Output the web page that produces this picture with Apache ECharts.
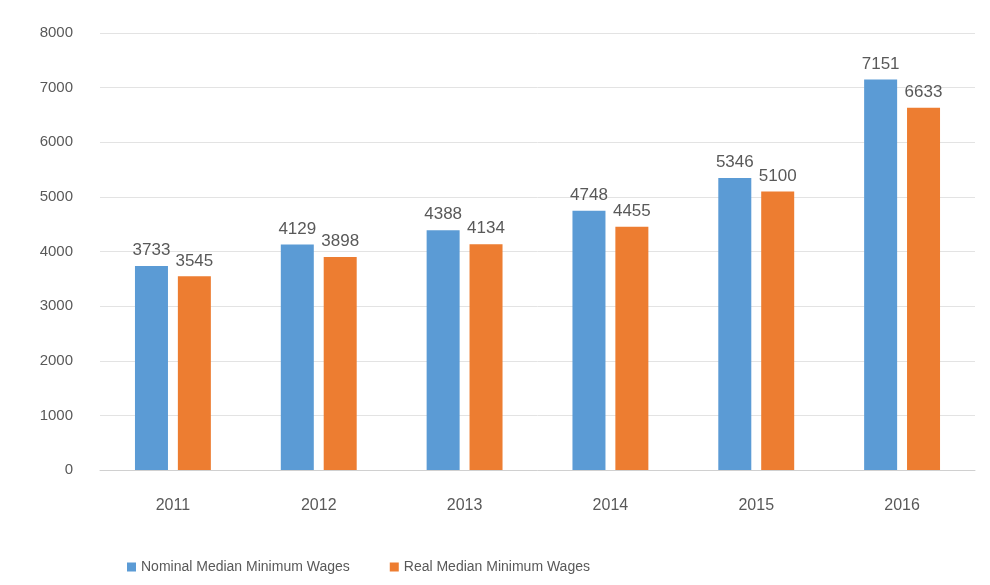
<!DOCTYPE html>
<html>
<head>
<meta charset="utf-8">
<script src="https://cdn.jsdelivr.net/npm/echarts@6/dist/echarts.min.js"></script>
<style>html,body{margin:0;padding:0;background:#fff}#c{width:990px;height:585px}</style>
</head>
<body>
<div id="c"></div>
<script>
const categories = ['2011', '2012', '2013', '2014', '2015', '2016'];
const nominal = [3733, 4129, 4388, 4748, 5346, 7151];
const real = [3545, 3898, 4134, 4455, 5100, 6633];
const seriesNames = ['Nominal Median Minimum Wages', 'Real Median Minimum Wages'];

const chart = echarts.init(document.getElementById('c'), null, {renderer: 'canvas'});
const labelStyle = {show: true, position: 'top', color: '#595959', fontSize: 17, fontFamily: 'Liberation Sans', distance: 7};
chart.setOption({
  animation: false,
  grid: {left: 100, right: 15, top: 33, bottom: 115},
  legend: {
    left: 122, bottom: 6, itemWidth: 9, itemHeight: 9, itemGap: 40, icon: 'rect',
    textStyle: {color: '#595959', fontSize: 14, fontFamily: 'Liberation Sans'},
    data: seriesNames
  },
  xAxis: {
    type: 'category', data: categories,
    axisLine: {lineStyle: {color: '#d0d0d0'}},
    axisTick: {show: false},
    axisLabel: {color: '#595959', fontSize: 16, fontFamily: 'Liberation Sans', margin: 28}
  },
  yAxis: {
    type: 'value', min: 0, max: 8000, interval: 1000,
    axisLine: {show: false}, axisTick: {show: false},
    splitLine: {lineStyle: {color: '#e3e3e3'}},
    axisLabel: {color: '#595959', fontSize: 15, fontFamily: 'Liberation Sans', margin: 27,
      formatter: v => String(v)}
  },
  series: [
    {name: seriesNames[0], type: 'bar', data: nominal, barWidth: 33, barGap: '30%',
     itemStyle: {color: '#5b9bd5'}, label: labelStyle},
    {name: seriesNames[1], type: 'bar', data: real, barWidth: 33,
     itemStyle: {color: '#ed7d31'}, label: labelStyle}
  ]
});
</script>
</body>
</html>
